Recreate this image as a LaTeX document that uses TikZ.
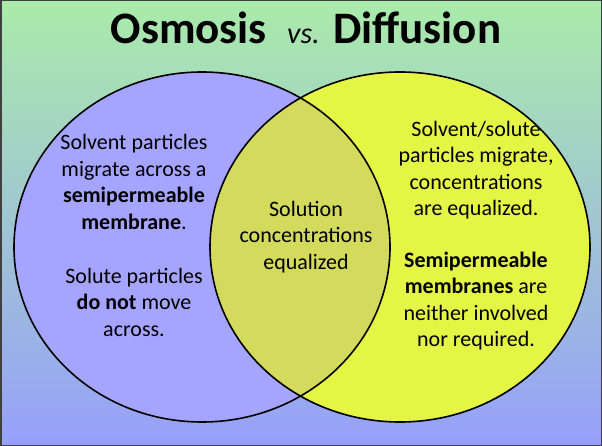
\documentclass[tikz,border=0pt]{standalone}
\usepackage{fontspec}
\setmainfont{Carlito}
\begin{document}
\begin{tikzpicture}[x=1pt,y=-1pt,
  txt/.style={align=center,font=\fontsize{22}{26.5}\selectfont,inner sep=0pt}]
\definecolor{bgtop}{RGB}{170,235,170}
\definecolor{bgbot}{RGB}{150,160,250}
\definecolor{lc}{RGB}{165,165,255}
\definecolor{rc}{RGB}{228,245,70}
\definecolor{mc}{RGB}{212,218,92}
\shade[top color=bgtop,bottom color=bgbot] (0,0) rectangle (602,446);
\draw[line width=1.5pt,draw=black!75] (0.75,0.75) rectangle (601.25,445.25);
\fill[lc] (202,247) ellipse [x radius=188,y radius=175];
\fill[rc] (400,247) ellipse [x radius=190,y radius=175];
\begin{scope}
\clip (202,247) ellipse [x radius=188,y radius=175];
\fill[mc] (400,247) ellipse [x radius=190,y radius=175];
\end{scope}
\draw[line width=1.6pt] (202,247) ellipse [x radius=188,y radius=175];
\draw[line width=1.6pt] (400,247) ellipse [x radius=190,y radius=175];
\node[inner sep=0pt] (title) at (306,28) {\fontsize{45}{48}\selectfont\bfseries Osmosis \ \textnormal{\fontsize{30}{32}\selectfont\itshape vs.} Diffusion};
\node[txt] (l1) at (134,182) {Solvent particles\\migrate across a\\\textbf{semipermeable}\\\textbf{membrane}.};
\node[txt] (l2) at (134,302) {Solute particles\\\textbf{do not} move\\across.};
\node[txt] (m) at (306,237) {Solution\\concentrations\\equalized};
\node[txt] (r1) at (476,170) {Solvent/solute\\particles migrate,\\concentrations\\are equalized.};
\node[txt] (r2) at (476,301) {\textbf{Semipermeable}\\\textbf{membranes} are\\neither involved\\nor required.};
\end{tikzpicture}
\end{document}
